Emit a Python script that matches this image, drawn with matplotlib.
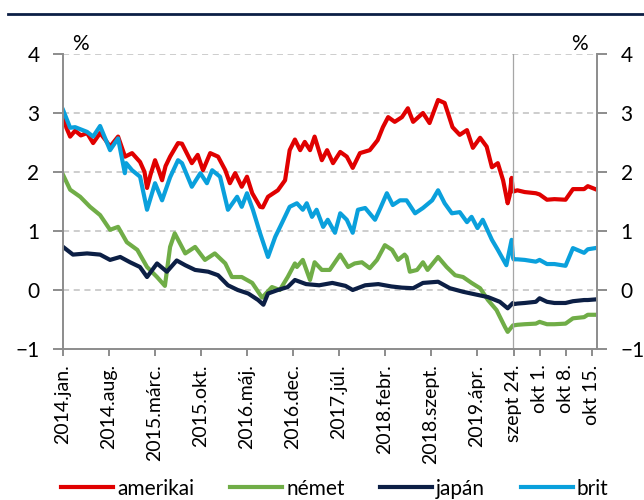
import matplotlib.pyplot as plt
import numpy as np

plt.rcParams['font.family'] = ['Lato', 'DejaVu Sans']

# ---------------- data (yields, %) ----------------
# long history: x = months since 2014 jan.
us_m = [0, 0.5, 1.07, 1.83, 2.7, 3.65, 4.57, 5.63, 6.4, 7.15, 8.37, 9.43, 10.5, 11.72, 12.4, 12.78, 13.3,
        14.0, 14.5, 15.07, 15.6, 16.29, 17.5, 18.1, 19.6, 20.5, 21.3, 22.4, 23.6, 24.7, 25.4, 26.2, 27.2,
        28.0, 28.8, 30.0, 30.4, 31.2, 32.7, 33.8, 34.5, 35.3, 36.1, 36.8, 37.6, 38.3, 39.4, 40.2, 41.1,
        42.2, 43.2, 44.1, 45.2, 46.7, 47.9, 48.7, 49.5, 50.5, 51.6, 52.5, 53.3, 54.8, 55.8, 57.1, 58.1,
        59.3, 60.4, 61.5, 62.4, 63.5, 64.5, 65.3, 66.2, 67.0, 67.7, 68.0, 68.3, 68.5]
us_v = [2.98, 2.75, 2.6, 2.7, 2.62, 2.66, 2.49, 2.66, 2.55, 2.43, 2.6, 2.26, 2.32, 2.17, 2.0, 1.73, 1.95,
        2.2, 2.05, 1.86, 2.1, 2.26, 2.49, 2.48, 2.15, 2.29, 2.03, 2.32, 2.26, 2.03, 1.81, 1.98, 1.75,
        1.92, 1.64, 1.41, 1.4, 1.58, 1.69, 1.86, 2.37, 2.55, 2.37, 2.51, 2.37, 2.6, 2.2, 2.37, 2.15,
        2.34, 2.26, 2.07, 2.32, 2.37, 2.54, 2.76, 2.93, 2.85, 2.93, 3.08, 2.85, 3.0, 2.83, 3.22, 3.17,
        2.76, 2.63, 2.71, 2.41, 2.58, 2.43, 2.08, 2.15, 1.86, 1.47, 1.6, 1.9, 1.67]

de_m = [0, 1.07, 2.6, 4.1, 5.63, 7.15, 8.37, 9.7, 11.3, 12.78, 14.3, 15.5, 16.29, 17.0, 18.6, 20.1, 21.6,
        23.1, 24.7, 25.7, 27.2, 28.8, 30.3, 31.8, 33.0, 34.2, 35.3, 35.6, 36.5, 37.6, 38.3, 39.4, 40.6,
        42.2, 43.4, 44.4, 45.5, 46.7, 47.8, 49.0, 50.1, 51.0, 52.0, 52.3, 52.8, 53.9, 54.8, 55.5, 57.1,
        58.4, 59.7, 60.9, 62.2, 63.5, 64.7, 66.0, 67.3, 67.7, 68.5]
de_v = [1.95, 1.7, 1.58, 1.41, 1.27, 1.02, 1.07, 0.81, 0.68, 0.39, 0.22, 0.07, 0.73, 0.96, 0.62, 0.73, 0.51,
        0.62, 0.45, 0.22, 0.22, 0.12, -0.13, 0.05, 0.0, 0.22, 0.45, 0.39, 0.51, 0.17, 0.47, 0.34, 0.34,
        0.6, 0.39, 0.45, 0.47, 0.37, 0.51, 0.76, 0.68, 0.51, 0.6, 0.56, 0.31, 0.34, 0.47, 0.34, 0.56,
        0.39, 0.25, 0.22, 0.12, 0.03, -0.17, -0.34, -0.63, -0.71, -0.6]

jp_m = [0, 1.5, 3.65, 5.63, 7.15, 8.7, 10.2, 11.7, 12.78, 14.3, 15.8, 17.3, 18.6, 20.1, 22.1, 23.6, 25.1,
        26.6, 28.2, 29.7, 30.5, 31.2, 32.7, 34.2, 35.3, 37.0, 39.0, 41.0, 43.0, 44.1, 46.0, 48.0, 50.0,
        51.6, 53.3, 54.8, 57.1, 58.9, 60.9, 63.0, 64.7, 66.5, 67.7, 68.5]
jp_v = [0.73, 0.6, 0.62, 0.6, 0.51, 0.56, 0.47, 0.39, 0.22, 0.45, 0.31, 0.5, 0.42, 0.34, 0.31, 0.25, 0.08,
        0.0, -0.06, -0.17, -0.25, -0.06, 0.0, 0.05, 0.17, 0.1, 0.08, 0.12, 0.07, 0.0, 0.08, 0.1, 0.06,
        0.04, 0.03, 0.12, 0.14, 0.03, -0.03, -0.08, -0.12, -0.2, -0.31, -0.22]

uk_m = [0, 1.07, 1.83, 3.65, 4.57, 5.63, 7.15, 8.37, 9.4, 9.6, 10.5, 11.72, 12.78, 14.0, 15.07, 16.29, 17.5,
        18.1, 19.6, 20.9, 21.9, 22.7, 23.9, 25.1, 26.5, 27.2, 28.0, 28.9, 30.0, 31.2, 32.3, 33.3, 34.5,
        35.6, 36.5, 37.1, 37.9, 38.6, 39.6, 40.3, 41.4, 42.2, 43.2, 44.1, 44.9, 46.0, 47.5, 48.2, 49.3,
        50.2, 51.3, 52.3, 53.6, 54.8, 56.2, 57.1, 58.1, 59.2, 60.4, 61.5, 62.2, 63.1, 63.9, 65.3, 66.2,
        67.5, 68.3, 68.5]
uk_v = [3.05, 2.75, 2.76, 2.68, 2.6, 2.78, 2.37, 2.57, 1.98, 2.15, 2.03, 1.92, 1.36, 1.81, 1.52, 1.91, 2.2,
        2.15, 1.75, 1.98, 1.81, 2.03, 1.92, 1.36, 1.58, 1.41, 1.64, 1.36, 0.96, 0.56, 0.9, 1.13, 1.41,
        1.47, 1.36, 1.47, 1.24, 1.36, 1.07, 1.19, 0.97, 1.3, 1.19, 0.97, 1.36, 1.39, 1.19, 1.36, 1.64,
        1.44, 1.52, 1.52, 1.3, 1.39, 1.52, 1.69, 1.47, 1.3, 1.32, 1.15, 1.24, 1.05, 1.19, 0.85, 0.68,
        0.42, 0.85, 0.55]

# recent days: x = days since szept 24.
days = [0, 1, 3, 6, 7, 9, 11, 14, 16, 19, 20, 22]
us_d = [1.67, 1.69, 1.66, 1.64, 1.62, 1.53, 1.54, 1.53, 1.71, 1.71, 1.76, 1.71]
de_d = [-0.6, -0.59, -0.58, -0.57, -0.54, -0.58, -0.58, -0.57, -0.48, -0.46, -0.42, -0.42]
jp_d = [-0.24, -0.23, -0.22, -0.2, -0.14, -0.2, -0.22, -0.22, -0.19, -0.17, -0.17, -0.16]
uk_d = [0.52, 0.52, 0.51, 0.48, 0.51, 0.44, 0.44, 0.41, 0.71, 0.63, 0.69, 0.71]

month_labels = ['2014.jan.', '2014.aug.', '2015.márc.', '2015.okt.', '2016.máj.', '2016.dec.',
                '2017.júl.', '2018.febr.', '2018.szept.', '2019.ápr.']
day_ticks = [0, 7, 14, 21]
day_labels = ['szept 24.', 'okt 1.', 'okt 8.', 'okt 15.']

names = ['amerikai', 'német', 'japán', 'brit']
colors = ['#e00000', '#70ad47', '#0c1f45', '#0aa0dc']

# ---------------- layout of the broken time axis ----------------
SPLIT = 68.5      # where the daily zoom starts
DAY_W = 0.565     # width of one day in month units
X_END = 81.3


def day_x(d):
    return SPLIT + 0.1 + np.asarray(d) * DAY_W


fig = plt.figure(figsize=(6.44, 5.0), dpi=100)
ax = fig.add_axes([0.098, 0.302, 0.829, 0.59])

series = [(us_m, us_v, us_d), (de_m, de_v, de_d), (jp_m, jp_v, jp_d), (uk_m, uk_v, uk_d)]
for (m, v, d), name, c in zip(series, names, colors):
    xs = np.concatenate([m, day_x(days)])
    ys = np.concatenate([v, d])
    ax.plot(xs, ys, color=c, lw=3, label=name, solid_joinstyle='round')

ax.axvline(SPLIT, color='#a6a6a6', lw=0.9)

ax.set_xlim(0, X_END)
ax.set_ylim(-1, 4)
ax.set_yticks(range(-1, 5))
for y in range(0, 5):
    ax.axhline(y, color='#c0c0c0', lw=1.1, ls=(0, (4, 3)), zorder=0)

xt = list(np.arange(0, 7 * len(month_labels), 7)) + list(day_x(day_ticks))
ax.set_xticks(xt)
ax.set_xticklabels(month_labels + day_labels, rotation=90, fontsize=14)

for s in ['left', 'right', 'bottom']:
    ax.spines[s].set_color('#8c8c8c')
    ax.spines[s].set_linewidth(1.4)
ax.spines['top'].set_visible(False)
ax.tick_params(axis='y', left=True, right=True, labelleft=True, labelright=True,
               labelsize=15, length=7, width=1.4, color='#8c8c8c', pad=10)
ax.tick_params(axis='x', length=5, width=1.4, color='#8c8c8c', pad=6)

fig.text(80 / 644, 1 - 44 / 500, '%', fontsize=15, ha='center', va='center')
fig.text(579 / 644, 1 - 44 / 500, '%', fontsize=15, ha='center', va='center')

# header rule of the cropped title
fig.add_artist(plt.Line2D([8 / 644, 1], [1 - 14 / 500, 1 - 14 / 500], color='#0c1f45', lw=2))

fig.legend(loc='lower center', bbox_to_anchor=(0.52, -0.035), ncol=4, frameon=False, fontsize=15,
           handlelength=2.5, handletextpad=0.2, columnspacing=1.7)

fig.savefig('out.png', dpi=100)
